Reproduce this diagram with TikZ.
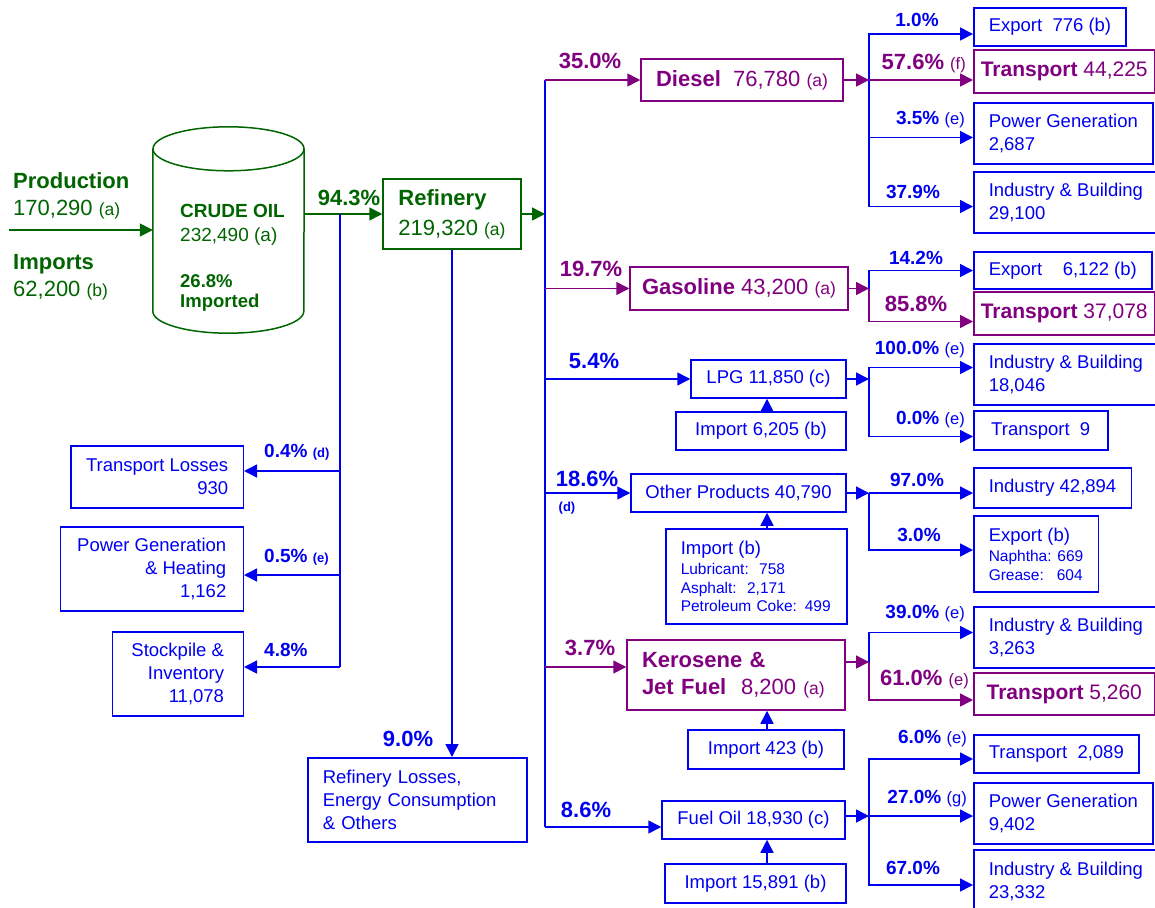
\documentclass[tikz,border=0pt]{standalone}
\usepackage{fontspec}
\setmainfont{Liberation Sans}
\usepackage{xcolor}
\definecolor{oilgreen}{RGB}{0,100,0}
\definecolor{oilpurple}{RGB}{128,0,128}
\definecolor{oilblue}{RGB}{0,0,240}
\usepackage{tikz}
\usetikzlibrary{arrows.meta}
\newcommand{\headsz}{\fontsize{22}{27}\selectfont}
\newcommand{\boxsz}{\fontsize{18.5}{23}\selectfont}
\newcommand{\listsz}{\fontsize{15.5}{18.5}\selectfont}
\newcommand{\notesz}{\fontsize{17.5}{20}\selectfont}
\newcommand{\pctsz}{\fontsize{19}{22}\selectfont\bfseries}
\newcommand{\bigpctsz}{\fontsize{22}{26}\selectfont\bfseries}
\newcommand{\tagsz}{\fontsize{16.5}{20}\selectfont\mdseries}
\newcommand{\trnsz}{\fontsize{21}{24}\selectfont}
\newcommand{\tanksz}{\fontsize{19}{24}\selectfont}
\newcommand{\note}[1]{{\notesz(#1)}}
\newcommand{\tagg}[1]{{\tagsz(#1)}}
\newcommand{\dtag}[1]{{\fontsize{13}{16}\selectfont(#1)}}
\tikzset{
    wire/.style={line width=1.5pt},
    bwire/.style={wire, oilblue},
    flow/.style={wire, -{Triangle[length=13pt, width=13pt]}},
    bflow/.style={flow, oilblue},
    pflow/.style={flow, oilpurple},
    gflow/.style={flow, oilgreen},
    common/.style={draw, wire, inner ysep=0pt},
    sink/.style={common, draw=oilblue, text=oilblue, font=\boxsz, align=left, inner xsep=15pt, anchor=west},
    lsink/.style={sink, align=right, anchor=east},
    psink/.style={common, draw=oilpurple, text=oilpurple, font=\trnsz, inner xsep=7pt, anchor=west},
    product/.style={common, draw=oilpurple, text=oilpurple, font=\headsz},
    bproduct/.style={common, draw=oilblue, text=oilblue, font=\boxsz},
    pct/.style={font=\pctsz, text=oilblue, inner sep=0pt},
    ppct/.style={pct, text=oilpurple},
    bigpct/.style={pct, font=\bigpctsz},
    bigppct/.style={bigpct, text=oilpurple},
    gtext/.style={text=oilgreen, align=left, inner sep=0pt, anchor=west},
    tank/.style={draw=oilgreen, wire}
}
\begin{document}
\begin{tikzpicture}[x=1pt, y=1pt]
\useasboundingbox (0,0) rectangle (1155,-907);

\coordinate (src) at (9,-230);
\node[gtext, font=\headsz] (prod) at (13,-196) {\textbf{Production}\\170,290 \note{a}};
\node[gtext, font=\headsz] (imps) at (13,-277) {\textbf{Imports}\\62,200 \note{b}};

\node[minimum width=151pt, minimum height=206pt, inner sep=0pt] (crude) at (228.5,-230) {};
\draw[tank] ([yshift=-22pt]crude.north west) -- ([yshift=22pt]crude.south west)
    arc[start angle=180, end angle=360, x radius=75.5pt, y radius=22pt]
    -- ([yshift=-22pt]crude.north east);
\draw[tank] ([yshift=-22pt]crude.north) ellipse[x radius=75.5pt, y radius=22pt];
\node[gtext, font=\tanksz] (crudeval) at (180,-225) {\textbf{CRUDE OIL}\\232,490 (a)};
\node[gtext, font={\fontsize{18.5}{20}\selectfont\bfseries}] (crudeimp) at (180,-293) {26.8\%\\Imported};

\node[common, draw=oilgreen, text=oilgreen, font=\headsz, align=left, minimum width=138pt, minimum height=70pt] (refin) at (452,-214) {\textbf{Refinery}\\[3pt]219,320 \note{a}};

\draw[gflow] (src) -- (crude.west);
\draw[gflow] (crude.east |- refin.west) -- (refin.west);
\node[bigpct, text=oilgreen] (p943) at (349,-198) {94.3\%};

\node[lsink, minimum height=62pt] (tloss) at (244,-477) {Transport Losses\\930};
\node[lsink, minimum height=84pt, minimum width=183pt] (pgen) at (244,-569) {Power Generation\\\& Heating\\1,162};
\node[lsink, minimum height=84pt, minimum width=131pt] (stock) at (244,-674) {Stockpile \&\\Inventory\\11,078};
\coordinate (lx) at (340,0);
\coordinate (tlossin) at ([yshift=6pt]tloss.east);
\coordinate (pgenin) at ([yshift=-6pt]pgen.east);
\coordinate (stockin) at ([yshift=7pt]stock.east);
\draw[bwire] (lx |- refin.west) -- (lx |- stockin);
\draw[bflow] (lx |- tlossin) -- (tlossin);
\draw[bflow] (lx |- pgenin) -- (pgenin);
\draw[bflow] (lx |- stockin) -- (stockin);
\node[pct, anchor=west] (p04) at (264,-452) {0.4\% \dtag{d}};
\node[pct, anchor=west] (p05) at (264,-557) {0.5\% \dtag{e}};
\node[pct, anchor=west] (p48) at (264,-650) {4.8\%};

\node[sink, anchor=north west, text width=189pt, minimum height=84pt] (rloss) at (307,-757) {Refinery Losses,\\Energy Consumption\\\& Others};
\draw[bflow] (refin.south) -- (refin.south |- rloss.north);
\node[bigpct] (p90) at (408,-739) {9.0\%};

\coordinate (trunk) at (545,-80);
\coordinate (brx) at (869,0);
\coordinate (impx) at (767,0);
\draw[gflow] (refin.east) -- (refin.east -| trunk);

\node[product, minimum width=202pt, minimum height=42pt] (diesel) at (742,-80) {\textbf{Diesel}\ \ 76,780 \note{a}};
\node[product, minimum width=218pt, minimum height=43pt] (gaso) at (739,-288.5) {\textbf{Gasoline} 43,200 \note{a}};
\node[bproduct, minimum width=155pt, minimum height=38pt] (lpg) at (768.5,-379) {LPG 11,850 (c)};
\node[bproduct, minimum width=170pt, minimum height=38pt] (lpgimp) at (761,-431) {Import 6,205 (b)};
\node[bproduct, minimum width=215pt, minimum height=38pt] (other) at (738.5,-493) {Other Products 40,790};
\node[bproduct, anchor=north west, align=left, text width=151pt, inner xsep=15pt, minimum height=95pt, font=\listsz] (othimp) at (665,-528) {{\boxsz Import (b)}\\[2pt]Lubricant:\ \ 758\\Asphalt:\ \ 2,171\\Petroleum Coke: 499};
\node[product, align=left, text width=188pt, inner xsep=15pt, minimum height=70pt] (kero) at (736,-675) {\textbf{Kerosene \&}\\\textbf{Jet Fuel}\ \ 8,200 \note{a}};
\node[bproduct, minimum width=156pt, minimum height=39pt] (keroimp) at (766,-749.5) {Import 423 (b)};
\node[bproduct, minimum width=183pt, minimum height=38pt] (fuel) at (753.5,-820) {Fuel Oil 18,930 (c)};
\node[bproduct, minimum width=181pt, minimum height=39pt] (fuelimp) at (755.5,-883.5) {Import 15,891 (b)};

\draw[bflow] (impx |- lpgimp.north) -- (impx |- lpg.south);
\draw[bflow] (impx |- othimp.north) -- (impx |- other.south);
\draw[bflow] (impx |- keroimp.north) -- (impx |- kero.south);
\draw[bflow] (impx |- fuelimp.north) -- (impx |- fuel.south);

\coordinate (keroin) at ([yshift=8pt]kero.west);
\coordinate (fuelin) at ([yshift=-7pt]fuel.west);
\draw[bwire] (trunk) -- (trunk |- fuelin);
\draw[pflow] (trunk) -- (diesel.west);
\draw[pflow] (trunk |- gaso.west) -- (gaso.west);
\draw[bflow] (trunk |- lpg.west) -- (lpg.west);
\draw[bflow] (trunk |- other.west) -- (other.west);
\draw[pflow] (trunk |- keroin) -- (keroin);
\draw[bflow] (trunk |- fuelin) -- (fuelin);

\node[bigppct] (p350) at (590,-61) {35.0\%};
\node[bigppct] (p197) at (591,-269) {19.7\%};
\node[bigpct] (p054) at (594,-361) {5.4\%};
\node[bigpct] (p186) at (587,-479) {18.6\%};
\node[pct, font={\fontsize{13}{16}\selectfont\bfseries}] (p186d) at (567,-508) {(d)};
\node[bigppct] (p037) at (590,-648) {3.7\%};
\node[bigpct] (p086) at (586,-810) {8.6\%};

\node[sink, minimum height=38pt] (dexp) at (973,-27) {Export\ \ 776 (b)};
\node[psink, minimum height=43pt] (dtrn) at (973,-71.5) {\textbf{Transport} 44,225};
\node[sink, minimum height=61pt] (dpow) at (973,-133.5) {Power Generation\\2,687};
\node[sink, minimum height=61pt] (dind) at (973,-202.5) {Industry \& Building\\29,100};
\node[sink, minimum height=37pt] (gexp) at (973,-270.5) {Export\ \ \ \ 6,122 (b)};
\node[psink, minimum height=43pt] (gtrn) at (973,-313.5) {\textbf{Transport} 37,078};
\node[sink, minimum height=61pt] (lind) at (973,-374.5) {Industry \& Building\\18,046};
\node[sink, minimum height=39pt, minimum width=134pt] (ltrn) at (973,-430.5) {Transport\ \ 9};
\node[sink, minimum height=40pt] (oind) at (973,-488) {Industry 42,894};
\node[sink, minimum height=76pt, font=\listsz] (oexp) at (973,-554) {{\boxsz Export (b)}\\[2pt]Naphtha: 669\\Grease:\ \ \ 604};
\node[sink, minimum height=61pt] (kind) at (973,-637.5) {Industry \& Building\\3,263};
\node[psink, minimum height=42pt, minimum width=181pt] (ktrn) at (973,-694) {\textbf{Transport} 5,260};
\node[sink, minimum height=38pt] (ftrn) at (973,-754) {Transport\ \ 2,089};
\node[sink, minimum height=61pt] (fpow) at (973,-813.5) {Power Generation\\9,402};
\node[sink, minimum height=62pt] (find) at (973,-881) {Industry \& Building\\23,332};

\draw[pflow] (diesel.east) -- (diesel.east -| brx) coordinate (dbr);
\draw[bflow] (dbr) |- ([yshift=-7pt]dexp.west);
\draw[pflow] (dbr) -- (dbr -| dtrn.west);
\draw[bflow] (dbr) |- ([yshift=-4pt]dpow.west);
\draw[bflow] (dbr) |- ([yshift=-4pt]dind.west);

\draw[pflow] (gaso.east) -- (gaso.east -| brx) coordinate (gbr);
\draw[bflow] (gbr) |- (gexp.west);
\draw[pflow] (gbr) |- ([yshift=-8pt]gtrn.west);

\draw[bflow] (lpg.east) -- (lpg.east -| brx) coordinate (lbr);
\draw[bflow] (lbr) |- ([yshift=7pt]lind.west);
\draw[bflow] (lbr) |- ([yshift=-6pt]ltrn.west);

\draw[bflow] (other.east) -- (other.east -| brx) coordinate (obr);
\draw[bflow] (obr) -- (obr -| oind.west);
\draw[bflow] (obr) |- ([yshift=4pt]oexp.west);

\coordinate (kerout) at ([yshift=13pt]kero.east);
\draw[pflow] (kerout) -- (kerout -| brx) coordinate (kbr);
\draw[bflow] (kbr) |- ([yshift=5pt]kind.west);
\draw[pflow] (kbr) |- ([yshift=-6pt]ktrn.west);

\coordinate (fuelout) at ([yshift=4pt]fuel.east);
\draw[bflow] (fuelout) -- (fuelout -| brx) coordinate (fbr);
\draw[bflow] (fbr) |- ([yshift=-5pt]ftrn.west);
\draw[bflow] (fbr) -- (fbr -| fpow.west);
\draw[bflow] (fbr) |- ([yshift=-4pt]find.west);

\node[pct] (q10) at (917,-20) {1.0\%};
\node[bigppct, anchor=east] (q576) at (966,-64) {57.6\% \tagg{f}};
\node[pct, anchor=east] (q35) at (965,-120) {3.5\% \tagg{e}};
\node[pct] (q379) at (913,-192) {37.9\%};
\node[pct] (q142) at (916,-258) {14.2\%};
\node[bigppct] (q858) at (916,-304) {85.8\%};
\node[pct, anchor=east] (q100) at (965,-350) {100.0\% \tagg{e}};
\node[pct, anchor=east] (q00) at (965,-420) {0.0\% \tagg{e}};
\node[pct] (q970) at (917,-480) {97.0\%};
\node[pct] (q30) at (919,-535) {3.0\%};
\node[pct, anchor=east] (q390) at (965,-614) {39.0\% \tagg{e}};
\node[bigppct, anchor=east] (q610) at (969,-680) {61.0\% \tagg{e}};
\node[pct, anchor=east] (q60) at (967,-739) {6.0\% \tagg{e}};
\node[pct, anchor=east] (q270) at (967,-799) {27.0\% \tagg{g}};
\node[pct] (q670) at (913,-868) {67.0\%};
\end{tikzpicture}
\end{document}
